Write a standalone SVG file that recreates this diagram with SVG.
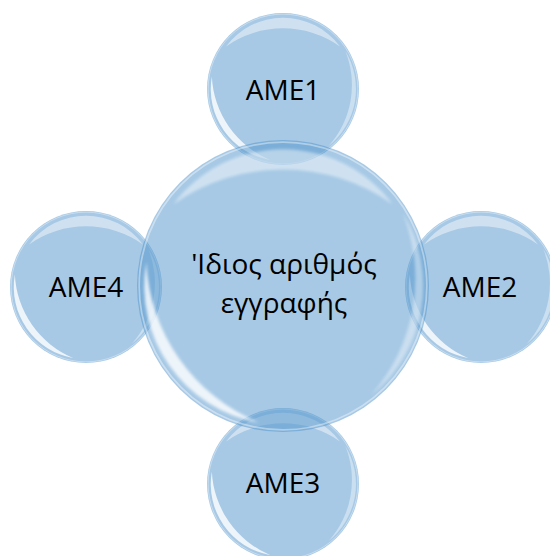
<svg xmlns="http://www.w3.org/2000/svg" xmlns:xlink="http://www.w3.org/1999/xlink" width="550" height="556" viewBox="0 0 550 556">
  <style>
    .lbl { font-family: "Open Sans", "Liberation Sans", sans-serif; font-size: 28px; fill: #000; text-anchor: middle; }
  </style>
  <defs>
    <filter id="soft" x="-0.2" y="-0.2" width="1.4" height="1.4">
      <feGaussianBlur stdDeviation="0.01"/>
    </filter>
    <g id="bubble">
      <circle r="1" fill="#4f94cc" fill-opacity="0.5"/>
      <circle r="0.985" fill="none" stroke="#ffffff" stroke-opacity="0.4" stroke-width="0.012"/>
      <!-- lower-left crescent -->
      <path d="M -0.165 0.936 A 0.95 0.95 0 0 1 -0.936 -0.165 A 1.25 1.25 0 0 0 -0.165 0.936 Z" fill="#ffffff" fill-opacity="0.8" filter="url(#soft)"/>
      <!-- top highlight -->
      <path d="M -0.75 -0.56 A 0.935 0.935 0 0 1 0.75 -0.56 A 1.3 1.3 0 0 0 -0.75 -0.56 Z" fill="#ffffff" fill-opacity="0.45" filter="url(#soft)"/>
      <!-- right rim -->
      <path d="M 0.82 -0.5 A 0.96 0.96 0 0 1 0.6 0.75 A 1.2 1.2 0 0 0 0.82 -0.5 Z" fill="#ffffff" fill-opacity="0.4" filter="url(#soft)"/>
    </g>
  </defs>
  <rect width="550" height="556" fill="#ffffff"/>
  <g id="connectors"/>
  <g id="ame1">
    <use xlink:href="#bubble" transform="translate(283,89) scale(76)"/>
    <text class="lbl" x="283" y="100">AME1</text>
  </g>
  <g id="ame2">
    <use xlink:href="#bubble" transform="translate(481,287) scale(76)"/>
    <text class="lbl" x="480" y="297">AME2</text>
  </g>
  <g id="ame3">
    <use xlink:href="#bubble" transform="translate(283,484) scale(76)"/>
    <text class="lbl" x="283" y="493">AME3</text>
  </g>
  <g id="ame4">
    <use xlink:href="#bubble" transform="translate(86,287) scale(76)"/>
    <text class="lbl" x="86" y="297">AME4</text>
  </g>
  <g id="center">
    <use xlink:href="#bubble" transform="translate(283,286) scale(146)"/>
    <text class="lbl" x="284" y="274">'Ιδιος αριθμός</text>
    <text class="lbl" x="284" y="313">εγγραφής</text>
  </g>
</svg>
